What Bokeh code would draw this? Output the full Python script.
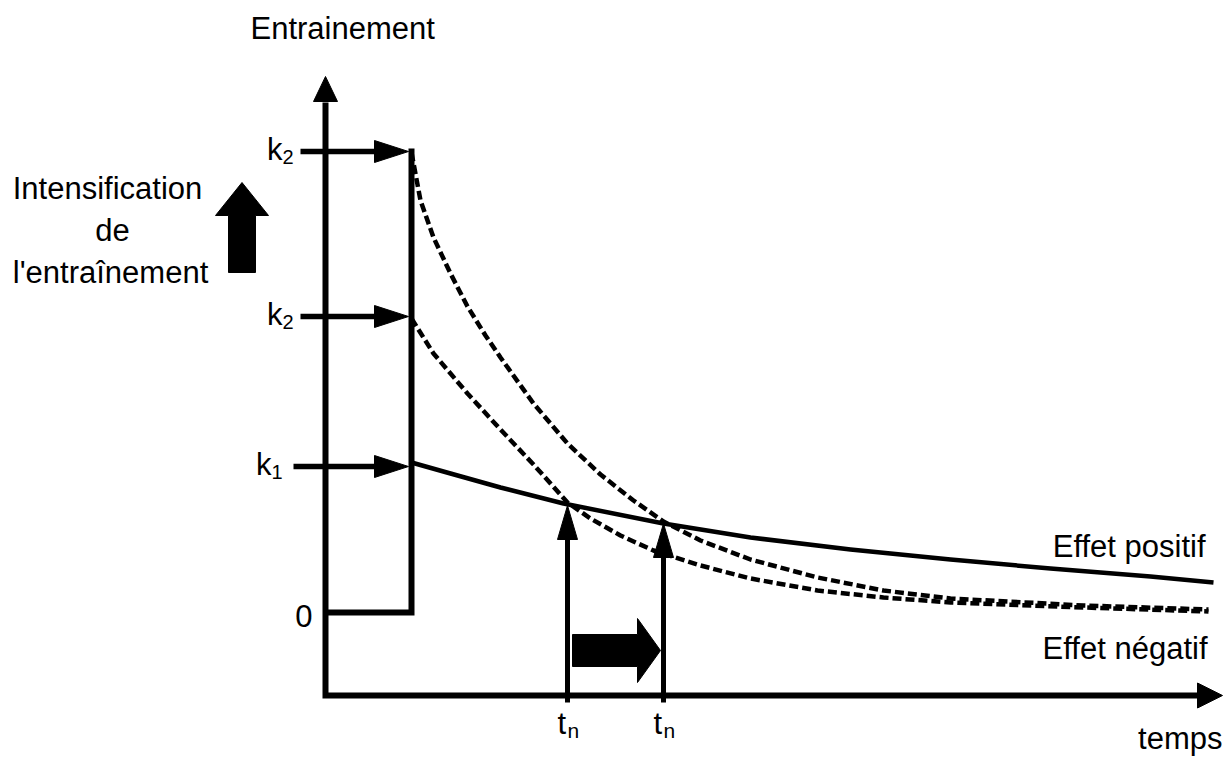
from bokeh.plotting import figure
from bokeh.models import Range1d
from bokeh.core.properties import value
from bokeh.embed import file_html
from bokeh.resources import INLINE

# ---------------- data (chart units: time to the right, effect upward) -------------
# training pulse (load) : baseline then vertical rise at the end of the pulse
pulse_t = [0, 86, 86]
pulse_v = [83, 83, 547]

# training levels (k values) and the arrows pointing at the pulse
k_names = ["2", "2", "1"]
k_levels = [544, 379, 229]
k_arrow_start = [-25, -25, -32]
k_arrow_end = 83

# positive effect (solid)
pos_t = [86, 125, 175, 238, 338, 425, 525, 625, 725, 825, 888]
pos_v = [233, 222, 208, 192, 172, 158, 146, 136, 127, 119, 113]

# negative effect, high intensity (dashed, starts at upper k2)
neg_hi_t = [86, 95, 108, 125, 142, 160, 175, 208, 242, 275, 308, 338, 375, 425,
            492, 558, 625, 758, 883]
neg_hi_v = [543, 495, 458, 422, 389, 360, 338, 292, 252, 221, 195, 174, 155, 136,
            118, 105, 97, 90, 86]

# negative effect, lower intensity (dashed, starts at lower k2)
neg_lo_t = [86, 108, 142, 175, 208, 242, 265, 295, 328, 375, 425, 492, 558, 625,
            758, 883]
neg_lo_v = [377, 342, 302, 266, 231, 193, 177, 160, 145, 130, 117, 105, 98, 93,
            88, 84]

# crossing times t_n
tn_t = [242, 338]
tn_v = [190, 172]

# axes
y_axis_top = 619
x_axis_end = 897

# ---------------- figure -------------
W, H = 1225, 760
X0, Y1 = -325, 695
p = figure(width=W, height=H, output_backend="svg", toolbar_location=None,
           x_range=Range1d(X0, X0 + W), y_range=Range1d(Y1 - H, Y1),
           min_border=0, x_axis_location=None, y_axis_location=None)
p.grid.visible = False
p.outline_line_color = None
p.background_fill_color = "white"
p.border_fill_color = "white"

BLACK = "black"
FONT = value("Liberation Sans")
TEXT_SHIFT = 12


def head(tx, ty, dx, dy, length, width):
    px_, py_ = -dy, dx
    bx, by = tx - dx * length, ty - dy * length
    xs = [tx, bx + px_ * width / 2, bx - px_ * width / 2]
    ys = [ty, by + py_ * width / 2, by - py_ * width / 2]
    return xs, ys, bx, by


heads_x, heads_y = [], []

# axes as one L-shaped line
hx, hy, bx, by = head(0, y_axis_top, 0, 1, 25, 24)
heads_x.append(hx); heads_y.append(hy)
hx2, hy2, bx2, by2 = head(x_axis_end, 0, 1, 0, 25, 25)
heads_x.append(hx2); heads_y.append(hy2)
p.line([0, 0, bx2 + 1], [by - 1, 0, 0], line_width=6, line_color=BLACK,
       line_join="miter")

# pulse
p.line(pulse_t, pulse_v, line_width=6, line_color=BLACK, line_join="miter")

# k arrows
for lv, st in zip(k_levels, k_arrow_start):
    hx, hy, bx, by = head(k_arrow_end, lv, 1, 0, 34, 22)
    heads_x.append(hx); heads_y.append(hy)
    p.line([st, bx + 1], [lv, lv], line_width=5.5, line_color=BLACK)

# curves
p.line(pos_t, pos_v, line_width=4.5, line_color=BLACK, line_join="round")
p.line(neg_hi_t, neg_hi_v, line_width=4.5, line_color=BLACK, line_dash="9 4",
       line_join="round")
p.line(neg_lo_t, neg_lo_v, line_width=4.5, line_color=BLACK, line_dash="9 4",
       line_join="round")

# t_n arrows
for t, v in zip(tn_t, tn_v):
    hx, hy, bx, by = head(t, v, 0, 1, 34, 20)
    heads_x.append(hx); heads_y.append(hy)
    p.line([t, t], [-7, by + 1], line_width=5, line_color=BLACK)

p.patches(heads_x, heads_y, fill_color=BLACK, line_color=BLACK, line_width=1)

# block arrow to the right between the two t_n
ax0 = tn_t[0] + 5
ax_tip = tn_t[1] - 3
ay = 45
hb = ax_tip - 23
p.patch([ax0, hb, hb, ax_tip, hb, hb, ax0],
        [ay - 16, ay - 16, ay - 32, ay, ay + 32, ay + 16, ay + 16],
        fill_color=BLACK, line_color=BLACK)

# block arrow upward (intensification)
ux = -83.5
u_tip = 513
u_hb = 480
u_bot = 423
p.patch([ux - 13.5, ux - 13.5, ux - 26.5, ux, ux + 26.5, ux + 13.5, ux + 13.5],
        [u_bot, u_hb, u_hb, u_tip, u_hb, u_hb, u_bot],
        fill_color=BLACK, line_color=BLACK)


# ---------------- texts -------------
def txt(x, y, s, size, align="left"):
    p.text([x], [y + TEXT_SHIFT], text=[s], text_font=FONT,
           text_font_size=value(size), text_align=align,
           text_baseline="alphabetic", text_color=BLACK)


txt(-75, 655, "Entrainement", "31px")
txt(-218, 495, "Intensification", "31px", "center")
txt(-213, 453, "de", "31px", "center")
txt(-215, 411, "l'entraînement", "31px", "center")
txt(880, 137, "Effet positif", "31px", "right")
txt(882, 35, "Effet négatif", "31px", "right")
txt(897, -55, "temps", "31px", "right")
txt(-13, 68, "0", "31px", "right")

k_label_right = [-43, -43, -54]
for name, lv, r in zip(k_names, k_levels, k_label_right):
    txt(r, lv - 10, "k", "31px", "right")
    txt(r, lv - 17, name, "20px", "left")

for t in tn_t:
    txt(t - 10, -40, "t", "31px", "left")
    txt(t, -47, "n", "21px", "left")

open("out.html", "w").write(file_html(p, INLINE))
